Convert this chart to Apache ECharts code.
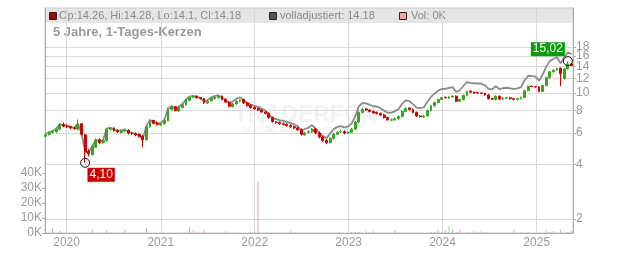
<!DOCTYPE html>
<html><head><meta charset="utf-8">
<script src="https://cdn.jsdelivr.net/npm/echarts@6/dist/echarts.min.js"></script>
<style>html,body{margin:0;padding:0;background:#fff}#c{width:632px;height:253px}</style>
</head><body><div id="c"></div>
<script>
// 14-day candles, first one on 2019-10-11
const firstDay = [2019, 9, 11];
const stepDays = 14;
const opens = [
5.75,5.9,6.05,6.1,6.3,6.7,6.55,6.5,6.4,6.3,
6.75,5.85,4.75,4.55,5.0,5.5,5.3,5.45,6.3,6.4,
6.2,6.05,6.2,6.2,6.0,5.95,5.9,5.75,5.5,6.5,
7.05,6.8,6.65,6.75,7.0,8.1,8.4,7.95,8.3,8.6,
9.1,9.5,9.6,9.4,9.3,8.8,9.05,9.3,9.4,9.6,
9.2,8.9,8.4,8.7,9.0,9.2,8.8,8.55,8.3,8.2,
8.05,7.85,7.7,7.3,6.9,6.85,6.75,6.7,6.6,6.5,
6.4,6.25,5.85,6.05,6.1,6.3,6.0,5.7,5.45,5.3,
5.6,5.9,6.1,6.1,6.0,6.05,6.3,6.9,7.8,8.15,
8.05,7.9,7.8,7.7,7.55,7.3,7.05,7.1,7.2,7.4,
7.9,8.25,8.1,7.8,7.45,7.35,7.45,8.0,8.5,8.85,
9.2,9.45,9.35,9.5,9.6,9.0,9.2,9.7,10.25,10.1,
10.05,10.0,9.95,9.75,9.3,9.2,9.6,9.25,9.35,9.4,
9.3,9.2,9.3,9.45,10.3,10.9,10.85,10.8,10.2,11.0,
12.2,13.1,13.4,13.7,12.0,13.6,14.5];
const closes = [
5.85,6.0,6.1,6.3,6.65,6.55,6.5,6.4,6.35,6.7,
5.9,4.7,4.6,5.05,5.45,5.3,5.45,6.3,6.35,6.2,
6.1,6.15,6.2,6.0,5.95,5.85,5.75,5.5,6.5,7.0,
6.8,6.7,6.75,7.05,8.1,8.4,8.0,8.3,8.6,9.15,
9.45,9.55,9.4,9.3,8.85,9.0,9.3,9.45,9.55,9.2,
8.9,8.45,8.7,9.0,9.15,8.8,8.5,8.3,8.15,8.05,
7.85,7.7,7.3,6.95,6.85,6.75,6.7,6.6,6.5,6.4,
6.25,5.9,6.0,6.1,6.3,6.0,5.7,5.45,5.3,5.6,
5.9,6.05,6.1,6.0,6.05,6.3,6.9,7.8,8.1,8.05,
7.9,7.75,7.7,7.55,7.3,7.1,7.1,7.2,7.4,7.9,
8.2,8.1,7.8,7.45,7.4,7.45,8.0,8.5,8.85,9.2,
9.4,9.4,9.5,9.6,9.0,9.2,9.7,10.2,10.1,10.0,
10.0,9.95,9.75,9.3,9.25,9.6,9.25,9.35,9.4,9.3,
9.2,9.3,9.45,10.3,10.9,10.85,10.8,10.2,11.0,12.2,
13.1,13.4,13.7,12.8,13.6,14.5,14.18];
const lows = [
5.7,5.8,5.95,6.0,6.2,6.45,6.4,6.3,6.25,6.2,
5.8,4.10,4.45,4.5,4.95,5.2,5.2,5.35,6.2,6.1,
6.0,5.95,6.05,5.9,5.85,5.75,5.65,5.0,5.45,6.4,
6.7,6.6,6.55,6.65,6.95,8.0,7.9,7.85,8.2,8.5,
9.0,9.35,9.3,9.2,8.7,8.7,8.95,9.2,9.3,9.1,
8.8,8.35,8.3,8.6,8.9,8.7,8.4,8.2,8.05,7.95,
7.75,7.6,7.2,6.85,6.75,6.65,6.6,6.5,6.4,6.3,
6.15,5.8,5.8,5.95,6.0,5.9,5.6,5.35,5.2,5.25,
5.5,5.85,6.0,5.9,5.95,6.0,6.25,6.8,7.7,7.95,
7.8,7.65,7.6,7.45,7.2,7.0,7.0,7.0,7.1,7.3,
7.8,8.0,7.7,7.35,7.3,7.3,7.4,7.9,8.4,8.75,
9.1,9.3,9.3,9.4,8.9,8.9,9.1,9.6,10.0,9.9,
9.9,9.85,9.65,9.2,9.15,9.1,9.15,9.15,9.25,9.2,
9.1,9.1,9.2,9.35,10.2,10.75,10.7,10.1,10.1,10.9,
12.0,13.0,13.3,10.9,11.9,13.5,14.1];
const highs = [
5.95,6.1,6.2,6.4,6.8,6.85,6.7,6.6,6.5,7.15,
6.8,5.95,4.9,5.15,5.6,5.6,5.55,6.4,6.5,6.45,
6.3,6.25,6.35,6.3,6.1,6.05,5.95,5.85,6.6,7.15,
7.1,6.95,6.85,7.15,8.3,8.5,8.45,8.4,8.7,9.25,
9.55,9.7,9.7,9.5,9.4,9.1,9.35,9.55,9.7,9.7,
9.35,9.0,8.8,9.1,9.25,9.3,8.9,8.65,8.4,8.3,
8.1,7.95,7.8,7.4,7.0,6.95,6.85,6.8,6.7,6.6,
6.5,6.35,6.05,6.2,6.4,6.4,6.1,5.8,5.55,5.7,
6.0,6.15,6.25,6.2,6.15,6.4,7.0,7.9,8.25,8.25,
8.15,8.0,7.9,7.8,7.65,7.4,7.2,7.3,7.5,8.0,
8.3,8.35,8.2,7.9,7.55,7.55,8.1,8.6,8.95,9.3,
9.5,9.55,9.6,9.7,9.7,9.3,9.8,10.3,10.35,10.2,
10.15,10.1,10.05,9.85,9.4,9.7,9.7,9.45,9.5,9.5,
9.4,9.4,9.55,10.4,11.0,11.0,10.95,10.9,11.1,12.3,
13.2,13.5,13.8,13.85,13.7,15.02,14.6];
const adjusted = [
5.91,6.06,6.16,6.36,6.72,6.62,6.57,6.46,6.41,6.77,
5.96,4.75,4.65,5.1,5.5,5.35,5.5,6.36,6.41,6.26,
6.16,6.21,6.26,6.06,6.01,5.91,5.81,5.56,6.57,7.07,
6.87,6.77,6.82,7.12,8.18,8.48,8.08,8.38,8.69,9.24,
9.55,9.65,9.5,9.4,8.95,9.12,9.45,9.62,9.73,9.39,
9.17,8.72,8.98,9.3,9.47,9.12,8.82,8.62,8.48,8.38,
8.17,8.02,7.61,7.25,7.16,7.06,7.01,6.91,6.81,6.71,
6.56,6.2,6.31,6.43,6.64,6.34,6.03,5.77,5.62,5.95,
6.31,6.48,6.54,6.45,6.51,6.79,7.45,8.46,8.8,8.76,
8.6,8.44,8.4,8.24,7.98,7.77,7.79,7.91,8.14,8.71,
9.1,9.0,8.67,8.29,8.24,8.31,8.94,9.51,9.91,10.3,
10.53,10.54,10.66,10.78,10.12,10.35,10.93,11.5,11.39,11.29,
11.3,11.25,11.03,10.53,10.48,10.89,10.5,10.63,10.69,10.59,
10.49,10.61,10.78,11.77,12.46,12.41,12.37,11.69,12.62,14.0,
15.07,15.43,15.78,14.6,15.75,16.8,16.45];
const volUp = [
0,0,3300,0,1500,0,0,0,0,0,
0,0,0,2200,0,0,0,2200,0,0,
0,0,0,0,0,0,0,0,3300,0,
0,0,0,0,0,0,0,0,0,0,
4200,0,0,0,0,0,0,0,0,0,
0,0,0,0,0,0,0,0,1000,0,
0,0,0,0,0,0,0,0,1500,0,
0,0,0,0,0,0,0,0,0,0,
0,0,0,0,0,900,700,600,0,1500,
0,0,0,0,0,0,0,2200,0,0,
0,0,0,0,0,0,0,700,900,2200,
0,1700,4400,2900,0,0,0,900,0,0,
0,1500,0,0,0,0,0,0,0,0,
2200,0,700,0,700,0,0,0,0,0,
0,1300,0,0,0,900,0];
const volDown = [
0,0,0,0,0,0,0,0,0,0,
0,0,0,0,0,0,0,0,0,0,
0,0,2200,0,0,0,0,0,0,0,
0,0,0,0,0,0,0,0,0,0,
0,2200,900,0,2200,0,0,0,0,0,
1100,0,0,0,0,0,0,1100,0,34400,
0,0,0,0,0,0,0,0,0,0,
0,0,0,0,0,0,0,0,0,0,
0,0,0,0,0,0,0,0,0,0,
0,1500,0,0,0,0,0,0,0,0,
0,0,0,0,0,0,0,0,0,0,
900,0,0,0,900,2200,0,0,0,1300,
700,0,700,0,0,0,0,0,0,0,
0,0,0,0,0,0,0,0,0,1500,
900,0,0,2200,0,0,1500];
const priceTicks = [2,4,6,8,10,12,14,16,18];
const priceLabelsA = [2,6,10,14,18];
const priceLabelsB = [4,8,12,16];
const volTicks = [0,10000,20000,30000,40000];
const yearTicks = [2020,2021,2022,2023,2024,2025];
const maxPoint = {idx: 145, value: 15.02, label: '15,02'};
const minPoint = {idx: 11, value: 4.10, label: '4,10'};

const L = Math.log;
const dates = opens.map((_, i) => new Date(firstDay[0], firstDay[1], firstDay[2] + stepDays * i).getTime());
const yearTs = yearTicks.map(y => new Date(y, 0, 1).getTime());
const candles = dates.map((d, i) => [d, L(opens[i]), L(closes[i]), L(lows[i]), L(highs[i])]);
const adjLine = dates.map((d, i) => [d, L(adjusted[i])]);
const upBars = dates.map((d, i) => [d, volUp[i]]);
const downBars = dates.map((d, i) => [d, volDown[i]]);

const GREEN = '#3aa41e', RED = '#cc0000', AX = '#aaa', LBL = '#999';
const FF = '"Liberation Sans", Arial, sans-serif';
const PMIN = L(2) - 14 / 78.3, PMAX = L(2) - 14 / 78.3 + 225 / 78.3;
const priceLabel = vals => ({customValues: vals.map(L), color: LBL, fontSize: 12, margin: 3, fontFamily: FF,
  hideOverlap: false, showMinLabel: true, showMaxLabel: true, formatter: v => String(Math.round(Math.exp(v)))});
const chart = echarts.init(document.getElementById('c'), null, {renderer: 'canvas'});
chart.setOption({
  animation: false,
  grid: {left: 45, right: 59, top: 8, bottom: 20, show: true, borderColor: '#ccc', borderWidth: 1, backgroundColor: 'transparent'},
  xAxis: {
    type: 'value',
    min: new Date(2019, 9, 9).getTime(),
    max: new Date(2025, 4, 22).getTime(),
    axisLine: {lineStyle: {color: AX}},
    axisTick: {show: false, customValues: yearTs},
    axisLabel: {customValues: yearTs, color: LBL, fontSize: 12, margin: 4, fontFamily: FF, hideOverlap: false,
      showMinLabel: true, showMaxLabel: true,
      formatter: v => String(new Date(v).getFullYear())},
    splitLine: {show: true, lineStyle: {color: '#d8d8d8'}}
  },
  yAxis: [{
    type: 'value', position: 'right', min: PMIN, max: PMAX,
    axisLine: {show: true, lineStyle: {color: AX}},
    axisTick: {show: true, length: 3, customValues: priceTicks.map(L), lineStyle: {color: AX}},
    axisLabel: priceLabel(priceLabelsA),
    splitLine: {show: true, lineStyle: {color: '#d8d8d8'}}
  }, {
    type: 'value', position: 'left', min: 0, max: 150000,
    axisLine: {show: true, lineStyle: {color: AX}},
    axisTick: {show: true, length: 3, customValues: volTicks, lineStyle: {color: AX}},
    axisLabel: {customValues: volTicks, color: LBL, fontSize: 12, margin: 3, fontFamily: FF, hideOverlap: false,
      showMinLabel: true, showMaxLabel: true,
      formatter: v => (v / 1000) + 'K'},
    splitLine: {show: false}
  }, {
    type: 'value', position: 'right', offset: 0, min: PMIN, max: PMAX,
    axisLine: {show: false}, axisTick: {show: false}, splitLine: {show: false},
    axisLabel: priceLabel(priceLabelsB)
  }],
  series: [{
    name: 'Vol up', type: 'bar', yAxisIndex: 1, data: upBars, barWidth: 1, barGap: '-100%',
    itemStyle: {color: '#8fd68f'}, z: 1
  }, {
    name: 'Vol down', type: 'bar', yAxisIndex: 1, data: downBars, barWidth: 1,
    itemStyle: {color: '#f2a2ab'}, z: 1
  }, {
    name: 'volladjustiert', type: 'line', data: adjLine, showSymbol: false, symbol: 'none',
    lineStyle: {color: '#8a8a8a', width: 1.8}, z: 2
  }, {
    name: 'Kurs', type: 'candlestick', data: candles, encode: {x: 0, y: [1, 2, 3, 4]}, barWidth: 2.4, z: 3,
    itemStyle: {color: GREEN, color0: RED, borderColor: GREEN, borderColor0: RED, borderWidth: 1},
    markPoint: {
      symbol: 'circle', symbolSize: 9,
      itemStyle: {color: 'rgba(0,0,0,0)', borderColor: '#111', borderWidth: 1},
      data: [
        {coord: [dates[maxPoint.idx], L(maxPoint.value)],
         label: {show: true, formatter: maxPoint.label, position: 'inside', offset: [-20, -12], color: '#fff',
                 backgroundColor: '#0a9c0a', padding: [1, 2], fontSize: 12, fontFamily: FF}},
        {coord: [dates[minPoint.idx], L(minPoint.value)],
         label: {show: true, formatter: minPoint.label, position: 'inside', offset: [16, 12], color: '#fff',
                 backgroundColor: '#cc0000', padding: [1, 2], fontSize: 12, fontFamily: FF}}
      ]
    }
  }],
  graphic: [
    {type: 'rect', left: 45, top: 8, z: -1, shape: {width: 528, height: 15}, style: {fill: 'rgba(0,0,0,0.1)'}},
    {type: 'rect', left: 49, top: 12, shape: {width: 7, height: 7}, style: {fill: '#b00000', stroke: '#222', lineWidth: 1}},
    {type: 'text', left: 59, top: 10, style: {text: 'Op:14.26, Hi:14.28, Lo:14.1, Cl:14.18', font: '11px ' + FF, fill: '#888'}},
    {type: 'rect', left: 269, top: 12, shape: {width: 7, height: 7}, style: {fill: '#555', stroke: '#222', lineWidth: 1}},
    {type: 'text', left: 280, top: 10, style: {text: 'volladjustiert: 14.18', font: '11px ' + FF, fill: '#888'}},
    {type: 'rect', left: 399, top: 12, shape: {width: 7, height: 7}, style: {fill: '#f2a6b0', stroke: '#222', lineWidth: 1}},
    {type: 'text', left: 411, top: 10, style: {text: 'Vol: 0K', font: '11px ' + FF, fill: '#888'}},
    {type: 'text', left: 53, top: 26, style: {text: '5 Jahre, 1-Tages-Kerzen', font: 'bold 13px ' + FF, fill: '#999'}},
    {type: 'text', left: 234, top: 104, z: -1, style: {text: 'TRADERFOX', font: 'bold 23px ' + FF, fill: 'rgba(0,0,0,0.05)'}},
    {type: 'text', left: 242, top: 127, z: -1, style: {text: 'REALTIME AKTIEN SCREENING', font: 'bold 7px ' + FF, fill: 'rgba(0,0,0,0.06)'}}
  ]
});
</script></body></html>
